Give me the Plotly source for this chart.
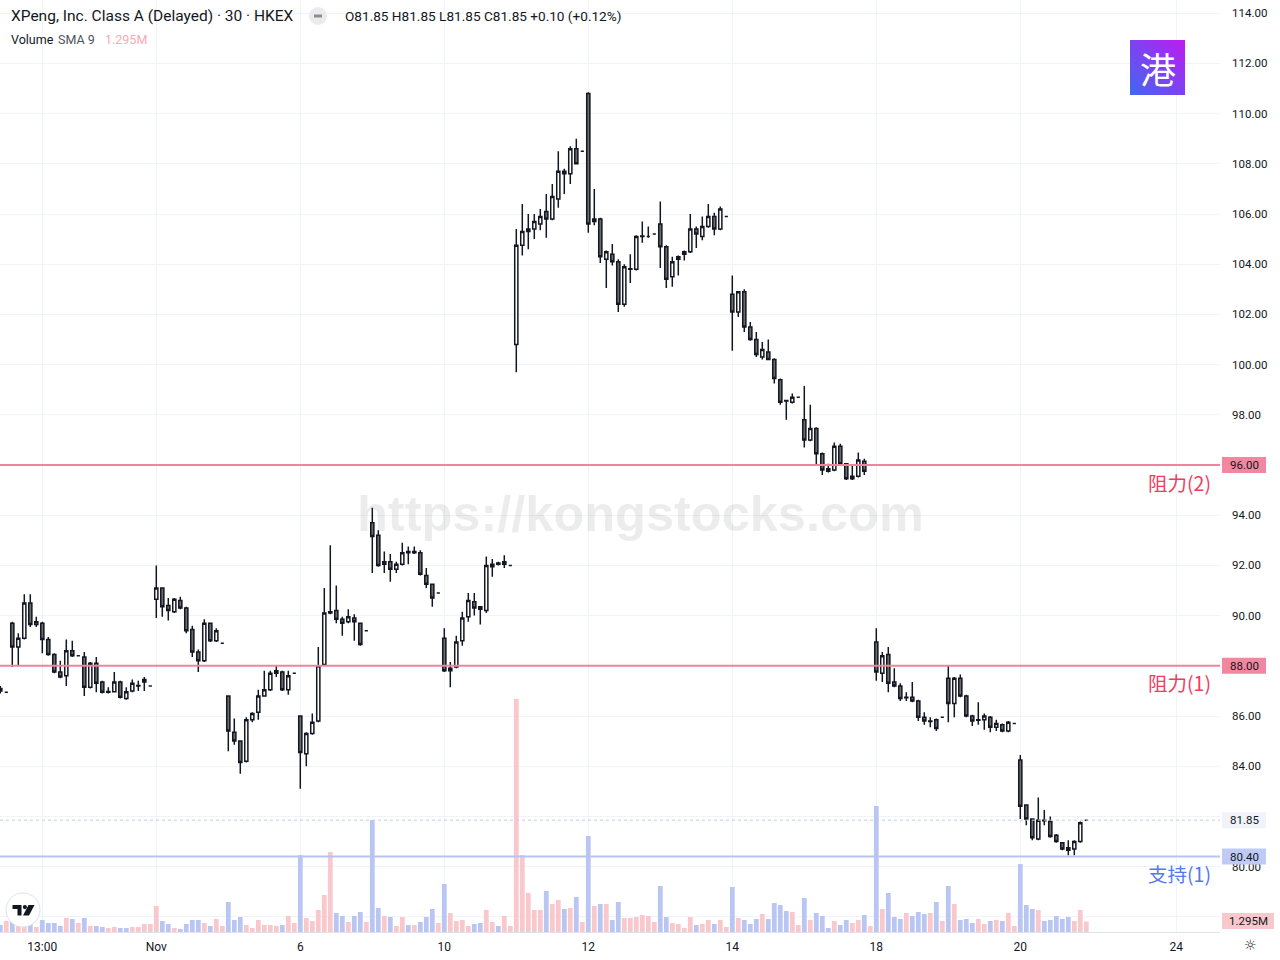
import base64
import plotly.graph_objects as go

# ---------------- data (30-minute bars) ----------------
opens = [87.1, 86.95, 89.7, 88.75, 89.1, 90.5, 89.65, 89.7, 89.05, 88.45,
         87.75, 87.6, 88.6, 88.4, 88.35, 87.15, 88.1, 87.35, 86.95, 86.97,
         87.35, 86.7, 87.0, 87.2, 87.35, 87.2, 90.65, 91.1, 90.4, 90.15,
         90.6, 90.3, 89.45, 88.55, 88.2, 89.7, 89.0, 88.9, 86.8, 85.35,
         85.0, 84.2, 85.85, 86.15, 86.8, 87.05, 87.7, 87.75, 87.05, 87.7,
         86.0, 84.5, 85.3, 85.8, 88.05, 90.1, 90.2, 89.85, 89.75, 89.9,
         89.7, 89.4, 93.7, 93.2, 92.05, 92.15, 91.85, 92.05, 92.55, 92.5,
         92.5, 91.6, 91.25, 90.9, 89.1, 87.8, 87.95, 89.0, 89.95, 90.55,
         90.35, 90.2, 91.95, 92.1, 92.05, 92.0, 100.8, 104.75, 105.3, 105.4,
         105.6, 106.1, 105.8, 106.6, 107.7, 107.6, 108.6, 108.5, 110.8, 105.7,
         105.8, 104.2, 104.4, 104.1, 102.4, 103.8, 103.8, 105.1, 105.1, 105.2,
         105.6, 104.7, 103.5, 104.2, 104.4, 104.5, 105.4, 105.1, 105.5, 105.9,
         105.4, 105.9, 102.8, 102.1, 102.9, 101.5, 101.0, 100.3, 100.5, 100.2,
         99.4, 98.57, 98.5, 98.7, 97.8, 97.0, 97.45, 96.45, 95.85, 95.8,
         96.75, 96.05, 95.45, 95.55, 96.15, 96.0, 88.95, 87.7, 88.45, 87.35,
         87.2, 86.73, 86.75, 86.6, 85.95, 85.78, 85.85, 85.95, 87.5, 86.5,
         87.5, 86.8, 86.0, 85.83, 85.85, 85.95, 85.55, 85.65, 85.4, 85.7,
         84.25, 82.45, 81.9, 81.1, 81.85, 81.8, 81.25, 80.95, 80.75, 80.7,
         81.0, 81.85]
highs = [87.2, 86.95, 89.75, 89.3, 90.85, 90.85, 89.95, 89.75, 89.15, 88.5,
         88.2, 89.05, 89.0, 88.4, 88.55, 88.15, 88.35, 87.4, 87.15, 87.75,
         87.4, 87.15, 87.45, 87.4, 87.55, 87.2, 92.0, 91.1, 90.7, 90.7,
         90.75, 90.35, 89.6, 88.65, 89.85, 89.7, 89.5, 88.9, 86.8, 85.9,
         85.0, 85.95, 86.15, 87.05, 87.8, 87.8, 88.0, 87.8, 87.8, 87.7,
         86.0, 85.35, 86.1, 88.75, 91.1, 92.8, 91.2, 89.95, 90.25, 90.05,
         89.7, 89.4, 94.3, 93.4, 92.55, 92.45, 92.15, 92.9, 92.75, 92.75,
         92.6, 91.9, 91.25, 90.9, 89.5, 88.15, 89.2, 90.15, 90.9, 90.9,
         90.35, 92.35, 92.25, 92.15, 92.4, 92.0, 105.4, 106.4, 106.0, 106.0,
         106.2, 106.8, 107.2, 108.5, 107.8, 108.7, 109.0, 108.5, 110.85, 107.0,
         105.85, 104.55, 104.8, 104.2, 104.0, 104.4, 105.15, 105.7, 105.5, 105.2,
         106.5, 104.75, 104.3, 104.35, 104.55, 106.0, 105.5, 105.9, 106.4, 106.05,
         106.3, 105.9, 103.55, 102.9, 103.0, 101.7, 101.3, 100.9, 101.0, 100.25,
         99.45, 98.6, 98.85, 98.7, 99.15, 98.4, 97.5, 96.5, 96.05, 96.9,
         96.85, 96.05, 96.0, 96.5, 96.25, 96.0, 89.5, 88.55, 88.75, 87.9,
         87.3, 86.95, 87.35, 86.65, 86.15, 85.95, 85.9, 85.95, 88.0, 87.55,
         87.65, 86.85, 86.05, 86.55, 86.1, 86.0, 85.85, 85.7, 85.8, 85.7,
         84.45, 82.45, 81.9, 82.75, 82.25, 82.0, 81.3, 80.95, 81.05, 81.05,
         81.8, 81.85]
lows = [86.9, 86.95, 87.95, 88.0, 89.05, 89.55, 89.55, 88.5, 88.4, 87.7,
        87.5, 87.2, 88.35, 88.4, 86.8, 87.1, 86.95, 86.9, 86.9, 86.95,
        86.7, 86.65, 86.95, 87.0, 87.0, 87.2, 89.9, 89.95, 89.8, 90.1,
        90.25, 89.3, 88.35, 87.75, 88.15, 88.95, 88.95, 88.9, 84.6, 84.85,
        83.7, 84.15, 85.75, 85.85, 86.8, 87.0, 87.55, 87.0, 86.85, 87.7,
        83.1, 84.0, 85.25, 85.75, 88.0, 90.05, 89.7, 89.2, 89.7, 89.0,
        88.8, 89.4, 91.7, 91.95, 91.7, 91.35, 91.7, 92.0, 92.05, 92.45,
        91.6, 91.1, 90.35, 90.9, 87.75, 87.15, 87.9, 88.8, 89.75, 90.0,
        89.65, 90.1, 91.55, 92.0, 91.9, 92.0, 99.7, 104.35, 104.6, 105.0,
        105.35, 105.05, 105.75, 106.25, 106.8, 107.2, 108.0, 108.5, 105.25, 105.55,
        104.05, 103.05, 103.95, 102.1, 102.3, 103.25, 103.75, 104.85, 105.05, 105.2,
        103.85, 103.05, 103.1, 103.55, 104.15, 104.45, 104.65, 104.95, 105.45, 105.15,
        105.35, 105.9, 100.55, 101.9, 101.3, 100.95, 100.3, 100.2, 100.2, 99.25,
        98.4, 97.8, 98.45, 98.7, 96.7, 96.95, 96.0, 95.6, 95.7, 95.75,
        96.0, 95.4, 95.4, 95.5, 95.6, 96.0, 87.4, 87.35, 86.95, 87.15,
        86.6, 86.6, 86.55, 85.8, 85.65, 85.55, 85.4, 85.95, 85.75, 85.95,
        86.75, 85.95, 85.6, 85.65, 85.45, 85.35, 85.4, 85.35, 85.35, 85.7,
        81.9, 81.65, 81.05, 81.05, 81.65, 81.15, 80.95, 80.65, 80.45, 80.45,
        80.95, 81.85]
closes = [87.0, 86.95, 88.75, 89.1, 90.5, 89.65, 89.75, 89.05, 88.45, 87.75,
          87.55, 88.6, 88.4, 88.4, 87.15, 88.1, 87.3, 86.95, 86.98, 87.35,
          86.75, 86.97, 87.3, 87.22, 87.45, 87.2, 91.1, 90.35, 90.2, 90.65,
          90.3, 89.4, 88.55, 88.2, 89.7, 89.0, 89.4, 88.9, 85.4, 85.0,
          84.15, 85.85, 86.1, 86.8, 87.05, 87.7, 87.8, 87.05, 87.6, 87.7,
          84.55, 85.3, 85.75, 88.0, 90.1, 90.15, 89.85, 89.7, 89.95, 89.75,
          88.85, 89.4, 93.15, 92.0, 92.15, 91.85, 92.05, 92.5, 92.5, 92.55,
          91.65, 91.25, 90.7, 90.9, 87.8, 87.9, 88.95, 89.9, 90.6, 90.3,
          90.25, 92.0, 92.05, 92.05, 92.15, 92.0, 104.75, 105.3, 105.4, 105.7,
          105.9, 105.8, 106.7, 107.7, 107.6, 108.6, 108.0, 108.5, 105.6, 105.8,
          104.3, 104.5, 104.1, 102.4, 103.9, 103.82, 105.1, 105.12, 105.1, 105.2,
          104.7, 103.4, 104.1, 104.3, 104.5, 105.4, 105.2, 105.5, 105.9, 105.4,
          106.2, 105.9, 102.1, 102.9, 101.5, 101.0, 100.4, 100.6, 100.2, 99.45,
          98.5, 98.55, 98.7, 98.7, 97.0, 97.45, 96.45, 95.8, 95.75, 96.75,
          96.05, 95.45, 95.55, 96.2, 95.75, 96.0, 87.75, 88.4, 87.3, 87.2,
          86.7, 86.75, 86.6, 85.95, 85.8, 85.8, 85.5, 85.95, 86.5, 87.5,
          86.8, 86.0, 85.8, 85.85, 86.0, 85.55, 85.7, 85.4, 85.75, 85.7,
          82.4, 81.9, 81.15, 81.85, 81.83, 81.2, 81.0, 80.7, 80.65, 81.0,
          81.75, 81.85]
volumes_m = [0.86, 1.36, 1.60, 0.74, 0.74, 1.11, 0.62, 1.48, 1.11, 1.11,
             0.74, 1.73, 1.60, 1.11, 1.73, 0.74, 0.74, 0.62, 0.49, 0.62,
             0.49, 0.49, 0.62, 0.62, 0.99, 0.99, 3.21, 1.36, 0.99, 0.49,
             0.37, 0.99, 1.48, 1.48, 1.11, 0.74, 1.60, 0.74, 3.70, 1.48,
             1.85, 0.86, 0.49, 1.48, 0.86, 0.86, 0.74, 0.86, 1.97, 1.11,
             9.49, 1.73, 1.36, 2.71, 4.56, 9.86, 2.34, 1.97, 1.23, 1.97,
             2.47, 1.23, 13.81, 2.96, 1.97, 1.85, 0.74, 1.85, 0.86, 0.86,
             1.23, 1.85, 2.84, 1.11, 5.92, 2.34, 1.36, 1.48, 0.74, 0.99,
             1.11, 2.71, 1.23, 0.74, 1.97, 0.74, 28.73, 9.49, 4.81, 2.71,
             2.71, 5.06, 3.45, 3.95, 2.84, 2.96, 4.32, 1.23, 11.84, 3.21,
             3.45, 3.45, 1.48, 3.70, 1.73, 1.73, 1.85, 2.10, 1.97, 1.23,
             5.67, 1.85, 1.11, 0.99, 0.49, 1.85, 0.86, 0.99, 1.48, 0.99,
             1.48, 0.62, 5.55, 1.73, 1.48, 0.99, 1.60, 2.22, 1.60, 3.58,
             3.33, 2.59, 2.47, 0.86, 4.19, 1.48, 2.34, 1.97, 0.49, 1.36,
             0.86, 1.48, 1.11, 1.48, 2.10, 0.74, 15.54, 2.84, 4.81, 1.85,
             1.60, 2.34, 1.97, 2.47, 2.22, 2.34, 3.70, 1.36, 5.67, 3.45,
             1.48, 1.60, 1.11, 1.60, 0.99, 1.36, 1.48, 1.36, 2.34, 0.74,
             8.38, 3.33, 2.84, 2.71, 1.36, 1.48, 1.97, 1.60, 1.85, 1.36,
             2.71, 1.295]
vol_down_extra = [21]          # volume bar drawn blue although the candle is hollow

time_tick_bars = [7, 26, 50, 74, 98, 122, 146, 170, 196]
time_tick_text = ["13:00", "Nov", "6", "10", "12", "14", "18", "20", "24"]
price_ticks = [78, 80, 82, 84, 86, 88, 90, 92, 94, 96, 98, 100, 102, 104, 106, 108, 110, 112, 114]
price_ticks_hidden = [78, 82]   # labels covered by the last-price / volume boxes

resistance_levels = [96.00, 88.00]
resistance_names = ["阻力(2)", "阻力(1)"]
support_levels = [80.40]
support_names = ["支持(1)"]

title_text = "XPeng, Inc. Class A (Delayed) · 30 · HKEX"
ohlc_text = "O81.85 H81.85 L81.85 C81.85 +0.10 (+0.12%)"
last_price = 81.85
last_volume_label = "1.295M"

# ---------------- layout geometry ----------------
W, H = 1280, 960
ML, MR, MT, MB = 0, 60, 0, 28
PW, PH = W - ML - MR, H - MT - MB          # 1220 x 932
BAR_PX = 6.0
X0_PX = 0.3
PX_PER_UNIT = 25.1
Y_REF_PX, Y_REF_PRICE = 465.0, 96.0


def px2paper_x(px):
    return (px - ML) / PW


def px2paper_y(py):
    return 1 - (py - MT) / PH


def px2price(py):
    return Y_REF_PRICE - (py - Y_REF_PX) / PX_PER_UNIT


x_range = [(0 - X0_PX) / BAR_PX, (PW - X0_PX) / BAR_PX]
y_range = [px2price(PH), px2price(0)]

idx = list(range(len(opens)))

INK = "#131722"
UP_VOL = "#f9c8cd"
DN_VOL = "#b9c6f2"
vol_colors = []
for i in idx:
    up = closes[i] >= opens[i] and i not in vol_down_extra
    vol_colors.append(UP_VOL if up else DN_VOL)

fig = go.Figure()

vmax = max(volumes_m)
fig.add_trace(go.Bar(
    x=idx, y=volumes_m, yaxis="y2", width=0.8,
    marker=dict(color=vol_colors, line=dict(width=0)),
    hoverinfo="skip", showlegend=False,
))

fig.add_trace(go.Candlestick(
    x=idx, open=opens, high=highs, low=lows, close=closes,
    increasing=dict(line=dict(color=INK, width=1.5), fillcolor="#ffffff"),
    decreasing=dict(line=dict(color=INK, width=1.5), fillcolor="#6b6b6b"),
    whiskerwidth=0, hoverinfo="skip", showlegend=False,
))

shapes = []
annotations = []
GRID = "#f0f3fa"
PINK_LINE = "#f0839e"
BLUE_LINE = "#b7c4f3"

# horizontal drawings
for lv, name in zip(resistance_levels, resistance_names):
    shapes.append(dict(type="line", xref="paper", yref="y", x0=0, x1=1, y0=lv, y1=lv,
                       line=dict(color=PINK_LINE, width=2), layer="above"))
    annotations.append(dict(xref="paper", yref="y", x=px2paper_x(1213), y=lv - 17 / PX_PER_UNIT,
                            text=name, showarrow=False, xanchor="right", yanchor="middle",
                            font=dict(family="Noto Sans CJK SC", size=19.5, color="#ef3c62")))
for lv, name in zip(support_levels, support_names):
    shapes.append(dict(type="line", xref="paper", yref="y", x0=0, x1=1, y0=lv, y1=lv,
                       line=dict(color=BLUE_LINE, width=2), layer="above"))
    annotations.append(dict(xref="paper", yref="y", x=px2paper_x(1213), y=lv - 17 / PX_PER_UNIT,
                            text=name, showarrow=False, xanchor="right", yanchor="middle",
                            font=dict(family="Noto Sans CJK SC", size=19.5, color="#5577ef")))

# last price dotted line
shapes.append(dict(type="line", xref="paper", yref="y", x0=0, x1=1, y0=last_price, y1=last_price,
                   line=dict(color="#c9ccd4", width=1, dash="dot"), layer="above"))


def axis_box(price, text, bg, right_px=1266):
    half = 8 / PX_PER_UNIT
    shapes.append(dict(type="rect", xref="paper", yref="y",
                       x0=px2paper_x(1222), x1=px2paper_x(right_px),
                       y0=price - half, y1=price + half,
                       fillcolor=bg, line=dict(width=0), layer="above"))
    annotations.append(dict(xref="paper", yref="y", x=px2paper_x((1222 + right_px) / 2), y=price,
                            text=text, showarrow=False, xanchor="center", yanchor="middle",
                            font=dict(family="Roboto", size=11.5, color=INK)))


for lv in resistance_levels:
    axis_box(lv, f"{lv:.2f}", "#f2879f")
axis_box(last_price, f"{last_price:.2f}", "#f0f3fa")
for lv in support_levels:
    axis_box(lv, f"{lv:.2f}", "#bfcbf5")
axis_box(px2price(921), last_volume_label, "#f9c8cd", right_px=1274)

# watermark
annotations.append(dict(xref="paper", yref="paper", x=px2paper_x(640), y=px2paper_y(513),
                        text="https://kongstocks.com", showarrow=False,
                        xanchor="center", yanchor="middle",
                        font=dict(family="Liberation Sans", size=50.5, color="rgba(0,0,0,0.075)",
                                  weight="bold")))

# header
annotations.append(dict(xref="paper", yref="paper", x=px2paper_x(9), y=px2paper_y(16),
                        text=title_text, showarrow=False, xanchor="left", yanchor="middle",
                        font=dict(family="Roboto", size=15.5, color=INK)))
shapes.append(dict(type="circle", xref="paper", yref="paper",
                   x0=px2paper_x(309), x1=px2paper_x(327), y0=px2paper_y(25), y1=px2paper_y(7),
                   fillcolor="#ebebee", line=dict(width=0), layer="above"))
shapes.append(dict(type="line", xref="paper", yref="paper",
                   x0=px2paper_x(314), x1=px2paper_x(322), y0=px2paper_y(16), y1=px2paper_y(16),
                   line=dict(color="#8a8d96", width=3), layer="above"))
annotations.append(dict(xref="paper", yref="paper", x=px2paper_x(343), y=px2paper_y(16),
                        text=ohlc_text, showarrow=False, xanchor="left", yanchor="middle",
                        font=dict(family="Roboto", size=13.6, color=INK)))
annotations.append(dict(xref="paper", yref="paper", x=px2paper_x(9), y=px2paper_y(40),
                        text="Volume", showarrow=False, xanchor="left", yanchor="middle",
                        font=dict(family="Roboto", size=12.5, color=INK)))
annotations.append(dict(xref="paper", yref="paper", x=px2paper_x(56), y=px2paper_y(40),
                        text="SMA 9", showarrow=False, xanchor="left", yanchor="middle",
                        font=dict(family="Roboto", size=12.5, color="#50535e")))
annotations.append(dict(xref="paper", yref="paper", x=px2paper_x(103), y=px2paper_y(40),
                        text=last_volume_label, showarrow=False, xanchor="left", yanchor="middle",
                        font=dict(family="Roboto", size=12.5, color="#f7aab3")))

# logo (gradient square + glyph)
svg = ('<svg xmlns="http://www.w3.org/2000/svg" width="55" height="55">'
       '<defs><linearGradient id="g" x1="0" y1="1" x2="1" y2="0">'
       '<stop offset="0" stop-color="#3f68f1"/><stop offset="1" stop-color="#bd1cf0"/>'
       '</linearGradient></defs><rect width="55" height="55" fill="url(#g)"/></svg>')
logo_src = "data:image/svg+xml;base64," + base64.b64encode(svg.encode()).decode()
images = [dict(source=logo_src, xref="paper", yref="paper",
               x=px2paper_x(1130), y=px2paper_y(40), sizex=55 / PW, sizey=55 / PH,
               xanchor="left", yanchor="top", sizing="stretch", layer="above")]
annotations.append(dict(xref="paper", yref="paper", x=px2paper_x(1158), y=px2paper_y(68),
                        text="港", showarrow=False, xanchor="center", yanchor="middle",
                        font=dict(family="Noto Sans CJK SC", size=36, color="#ffffff")))

# TradingView badge bottom-left
shapes.append(dict(type="circle", xref="paper", yref="paper",
                   x0=px2paper_x(6), x1=px2paper_x(40), y0=px2paper_y(927), y1=px2paper_y(893),
                   fillcolor="#ffffff", line=dict(color="#e0e3eb", width=1), layer="above"))


def poly(points):
    parts = []
    for k, (a, b) in enumerate(points):
        parts.append(("M" if k == 0 else "L") + f"{px2paper_x(a):.5f},{px2paper_y(b):.5f}")
    return " ".join(parts) + " Z"


for pts in ([(12.5, 905), (21.5, 905), (21.5, 915.5), (17.5, 915.5), (17.5, 909), (12.5, 909)],
            [(28.5, 905), (34.5, 905), (29.0, 915.5), (23.0, 915.5)]):
    shapes.append(dict(type="path", xref="paper", yref="paper", path=poly(pts),
                       fillcolor=INK, line=dict(width=0), layer="above"))
shapes.append(dict(type="circle", xref="paper", yref="paper",
                   x0=px2paper_x(22.8), x1=px2paper_x(27.0), y0=px2paper_y(909.2), y1=px2paper_y(905),
                   fillcolor=INK, line=dict(width=0), layer="above"))

# settings icon bottom-right
annotations.append(dict(xref="paper", yref="paper", x=px2paper_x(1251), y=px2paper_y(945),
                        text="☼", showarrow=False, xanchor="center", yanchor="middle",
                        font=dict(family="DejaVu Sans", size=14, color=INK)))

fig.update_layout(
    width=W, height=H,
    margin=dict(l=ML, r=MR, t=MT, b=MB),
    paper_bgcolor="#ffffff", plot_bgcolor="#ffffff",
    showlegend=False, boxgap=0.25, barmode="overlay",
    xaxis=dict(range=x_range, tickmode="array", tickvals=time_tick_bars, ticktext=time_tick_text,
               showgrid=True, gridcolor=GRID, gridwidth=1, zeroline=False,
               showline=True, linecolor="#e0e3eb", linewidth=1,
               ticks="", ticklabelstandoff=4,
               tickfont=dict(family="Roboto", size=12, color=INK),
               rangeslider=dict(visible=False), fixedrange=True),
    yaxis=dict(range=y_range, side="right", tickmode="array", tickvals=price_ticks,
               ticktext=["" if v in price_ticks_hidden else f"{v:.2f}" for v in price_ticks],
               showgrid=True, gridcolor=GRID, gridwidth=1, zeroline=False, showline=False,
               ticks="", ticklabelstandoff=11,
               tickfont=dict(family="Roboto", size=11.5, color=INK), fixedrange=True),
    yaxis2=dict(overlaying="y", range=[0, vmax * PH / 233.0], visible=False,
                showgrid=False, zeroline=False, fixedrange=True),
    shapes=shapes, annotations=annotations, images=images,
)

# the page itself must not add a margin around the 1280x960 figure
fig.write_html("out.html", config={"displayModeBar": False},
               post_script="document.body.style.margin='0px';"
                           "document.body.style.overflow='hidden';")
